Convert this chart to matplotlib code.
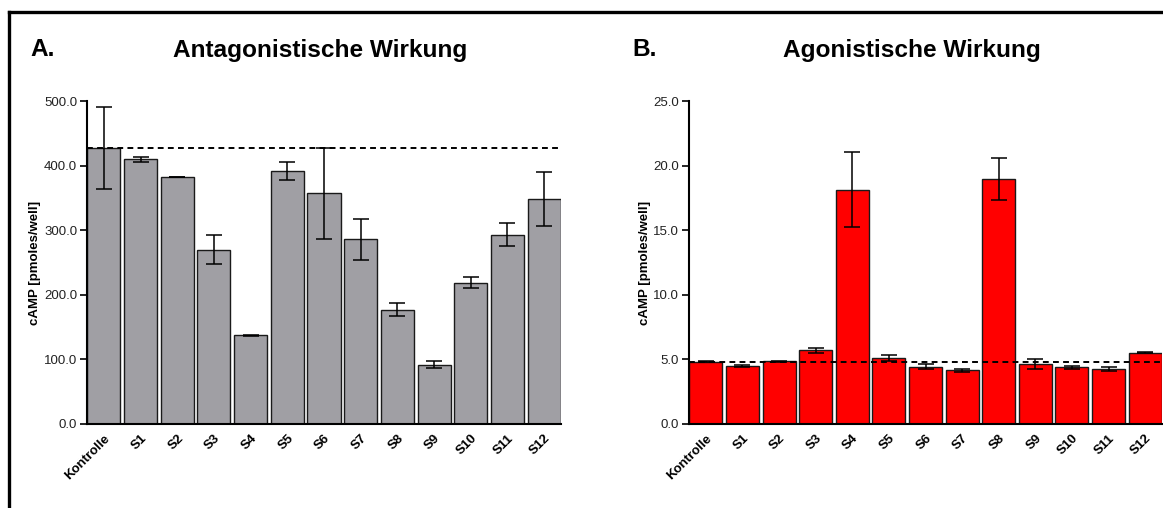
import matplotlib
matplotlib.use("Agg")
import matplotlib.pyplot as plt
from matplotlib.lines import Line2D
import numpy as np

plt.rcParams['font.family'] = ['Liberation Sans', 'DejaVu Sans']

categories = ["Kontrolle", "S1", "S2", "S3", "S4", "S5", "S6",
              "S7", "S8", "S9", "S10", "S11", "S12"]

# Antagonistic effect: mean cAMP and error
antag_mean = [427, 410, 382, 270, 137, 391, 357, 286, 177, 92, 219, 293, 348]
antag_err = [63, 4, 0, 22, 1, 14, 70, 32, 10, 6, 9, 18, 42]
antag_ref = 427
antag_ticks = [0, 100, 200, 300, 400, 500]

# Agonistic effect: mean cAMP and error
ag_mean = [4.82, 4.51, 4.85, 5.69, 18.15, 5.10, 4.44, 4.15, 18.95, 4.67, 4.38, 4.26, 5.51]
ag_err = [0.05, 0.08, 0.03, 0.18, 2.9, 0.23, 0.19, 0.12, 1.6, 0.38, 0.10, 0.14, 0.05]
ag_ref = 4.8
ag_ticks = [0, 5, 10, 15, 20, 25]

W, H = 1163, 508
fig = plt.figure(figsize=(W / 100, H / 100), dpi=100)


def px(x0, y0, x1, y1):
    return [x0 / W, 1 - y1 / H, (x1 - x0) / W, (y1 - y0) / H]


def panel(rect, means, errs, ref, ticks, color, letter, title, letter_x, title_x):
    ax = fig.add_axes(rect)
    x = np.arange(len(categories))
    ax.bar(x, means, width=0.9, color=color, edgecolor="#1a1a1a", linewidth=1.0, zorder=2)
    ax.errorbar(x, means, yerr=errs, fmt="none", ecolor="black", elinewidth=1.1,
                capsize=6, capthick=1.1, zorder=3)
    ax.axhline(ref, color="black", linestyle=(0, (3, 2.2)), linewidth=1.4, zorder=4)
    ax.set_xlim(-0.46, len(categories) - 0.54)
    ax.set_ylim(ticks[0], ticks[-1])
    ax.set_yticks(ticks)
    ax.set_yticklabels([f"{t:.1f}" for t in ticks], fontsize=9.5, color="#222222")
    ax.set_xticks(x)
    ax.set_xticklabels(categories, rotation=45, ha="right", rotation_mode="anchor",
                       fontsize=9.5, fontweight="bold")
    ax.tick_params(axis="x", length=0, pad=6)
    ax.tick_params(axis="y", length=5, width=1.2, direction="out", pad=2)
    for s in ("top", "right"):
        ax.spines[s].set_visible(False)
    for s in ("left", "bottom"):
        ax.spines[s].set_linewidth(1.5)
    ax.set_ylabel("cAMP [pmoles/well]", fontsize=9.5, fontweight="bold", labelpad=2)
    fig.text(letter_x / W, 1 - 50 / H, letter, fontsize=17.6, fontweight="bold",
             ha="left", va="center")
    fig.text(title_x / W, 1 - 50 / H, title, fontsize=17.6, fontweight="bold",
             ha="center", va="center")
    return ax


panel(px(87, 101, 561, 424), antag_mean, antag_err, antag_ref, antag_ticks,
      "#a09fa4", "A.", "Antagonistische Wirkung", 30, 320)
panel(px(689, 101, 1162, 424), ag_mean, ag_err, ag_ref, ag_ticks,
      "#ff0000", "B.", "Agonistische Wirkung", 632, 912)

# outer frame (top and left edges)
fig.add_artist(Line2D([9 / W, 1], [1 - 12 / H, 1 - 12 / H], color="black", linewidth=2.4,
                      transform=fig.transFigure))
fig.add_artist(Line2D([9 / W, 9 / W], [0, 1 - 12 / H], color="black", linewidth=2.4,
                      transform=fig.transFigure))

fig.savefig("out.png", dpi=100)
